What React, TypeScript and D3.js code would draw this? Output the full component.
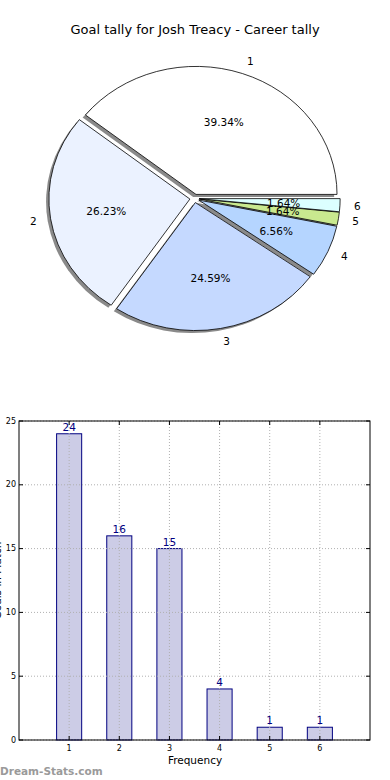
import React from "react";
import * as d3 from "d3";

// goals per match value (1..6) and how often it happened
const categories = ["1", "2", "3", "4", "5", "6"];
const goals = [24, 16, 15, 4, 1, 1];
const pieColors = ["#ffffff", "#ebf2ff", "#c5d9ff", "#b5d5ff", "#c9e98f", "#dcffff"];
const yTicks = [0, 5, 10, 15, 20, 25];
const xTicks = [1, 2, 3, 4, 5, 6];

const W = 390;
const H = 780;
const FONT = "DejaVu Sans, sans-serif";

const PieChart = () => {
  const total = d3.sum(goals);
  // matplotlib pie without equal aspect -> ellipse
  const cx = 194.5,
    cy = 198.4,
    rx = 141,
    ry = 128,
    explode = 0.033;
  const pie = d3
    .pie<number>()
    .sort(null)
    .startAngle(Math.PI / 2)
    .endAngle(Math.PI / 2 - 2 * Math.PI);
  const arcs = pie(goals);
  const R = 100;
  const arcGen = d3.arc<d3.PieArcDatum<number>>().innerRadius(0).outerRadius(R);

  const wedges = arcs.map((a, i) => {
    const mid = (a.startAngle + a.endAngle) / 2;
    const dx = Math.sin(mid);
    const dy = -Math.cos(mid);
    const ax = cx + explode * rx * dx;
    const ay = cy + explode * ry * dy;
    return { a, i, dx, dy, ax, ay };
  });

  const sx = rx / R,
    sy = ry / R;

  return (
    <g>
      <text x={195} y={34} textAnchor="middle" fontSize={13} fontFamily={FONT}>
        Goal tally for Josh Treacy - Career tally
      </text>
      {/* shadows */}
      {wedges.map((w) => (
        <path
          key={"s" + w.i}
          d={arcGen(w.a) || ""}
          transform={`translate(${w.ax - 0.02 * rx},${w.ay + 0.02 * ry}) scale(${sx},${sy})`}
          fill="#8a8a8a"
        />
      ))}
      {wedges.map((w) => (
        <path
          key={"w" + w.i}
          d={arcGen(w.a) || ""}
          transform={`translate(${w.ax},${w.ay}) scale(${sx},${sy})`}
          fill={pieColors[w.i]}
          stroke="#000"
          strokeWidth={0.8}
          vectorEffect="non-scaling-stroke"
        />
      ))}
      {wedges.map((w) => (
        <text
          key={"l" + w.i}
          x={w.ax + 1.1 * rx * w.dx}
          y={w.ay + 1.1 * ry * w.dy}
          textAnchor={w.dx > 0 ? "start" : "end"}
          dominantBaseline="central"
          fontSize={10.5}
          fontFamily={FONT}
        >
          {categories[w.i]}
        </text>
      ))}
      {wedges.map((w) => (
        <text
          key={"p" + w.i}
          x={w.ax + 0.6 * rx * w.dx}
          y={w.ay + 0.6 * ry * w.dy}
          textAnchor="middle"
          dominantBaseline="central"
          fontSize={10.5}
          fontFamily={FONT}
        >
          {((goals[w.i] / total) * 100).toFixed(2) + "%"}
        </text>
      ))}
    </g>
  );
};

const BarChart = () => {
  const left = 19,
    right = 370,
    top = 421,
    bottom = 740;
  const x = d3.scaleLinear().domain([0, 7]).range([left, right]);
  const y = d3.scaleLinear().domain([0, 25]).range([bottom, top]);
  const bw = x(0.5) - x(0);

  return (
    <g fontFamily={FONT}>
      {goals.map((g, i) => (
        <rect
          key={i}
          x={x(i + 1) - bw / 2}
          y={y(g)}
          width={bw}
          height={y(0) - y(g)}
          fill="#ccccE6"
          stroke="#000080"
          strokeWidth={1}
        />
      ))}
      {/* grid */}
      {yTicks.map((t) => (
        <line key={"gy" + t} x1={left} x2={right} y1={y(t)} y2={y(t)} stroke="#b0b0b0" strokeDasharray="1,2" />
      ))}
      {xTicks.map((t) => (
        <line key={"gx" + t} x1={x(t)} x2={x(t)} y1={top} y2={bottom} stroke="#b0b0b0" strokeDasharray="1,2" />
      ))}
      <rect x={left} y={top} width={right - left} height={bottom - top} fill="none" stroke="#000" strokeWidth={1} />
      {yTicks.map((t) => (
        <g key={"ty" + t}>
          <line x1={left} x2={left + 4} y1={y(t)} y2={y(t)} stroke="#000" />
          <line x1={right - 4} x2={right} y1={y(t)} y2={y(t)} stroke="#000" />
          <text x={left - 3} y={y(t)} textAnchor="end" dominantBaseline="central" fontSize={8}>
            {t}
          </text>
        </g>
      ))}
      {xTicks.map((t) => (
        <g key={"tx" + t}>
          <line x1={x(t)} x2={x(t)} y1={bottom} y2={bottom - 4} stroke="#000" />
          <line x1={x(t)} x2={x(t)} y1={top} y2={top + 4} stroke="#000" />
          <text x={x(t)} y={bottom + 11} textAnchor="middle" fontSize={8}>
            {t}
          </text>
        </g>
      ))}
      {goals.map((g, i) => (
        <text key={"v" + i} x={x(i + 1)} y={y(g) - 3} textAnchor="middle" fontSize={10.5} fill="#000080">
          {g}
        </text>
      ))}
      <text x={195} y={764} textAnchor="middle" fontSize={10.5}>
        Frequency
      </text>
      <text
        transform={`translate(1,${(top + bottom) / 2}) rotate(-90)`}
        textAnchor="middle"
        fontSize={10.5}
      >
        Goals in Match
      </text>
      <text x={0} y={775} fontSize={10.5} fontWeight="bold" fill="#9a9a9a">
        Dream-Stats.com
      </text>
    </g>
  );
};

export default function App() {
  return (
    <div style={{ position: "absolute", left: 0, top: 0, width: W, height: H, background: "#fff" }}>
      <svg width={W} height={H} style={{ display: "block" }}>
        <rect width={W} height={H} fill="#fff" />
        <PieChart />
        <BarChart />
      </svg>
    </div>
  );
}
